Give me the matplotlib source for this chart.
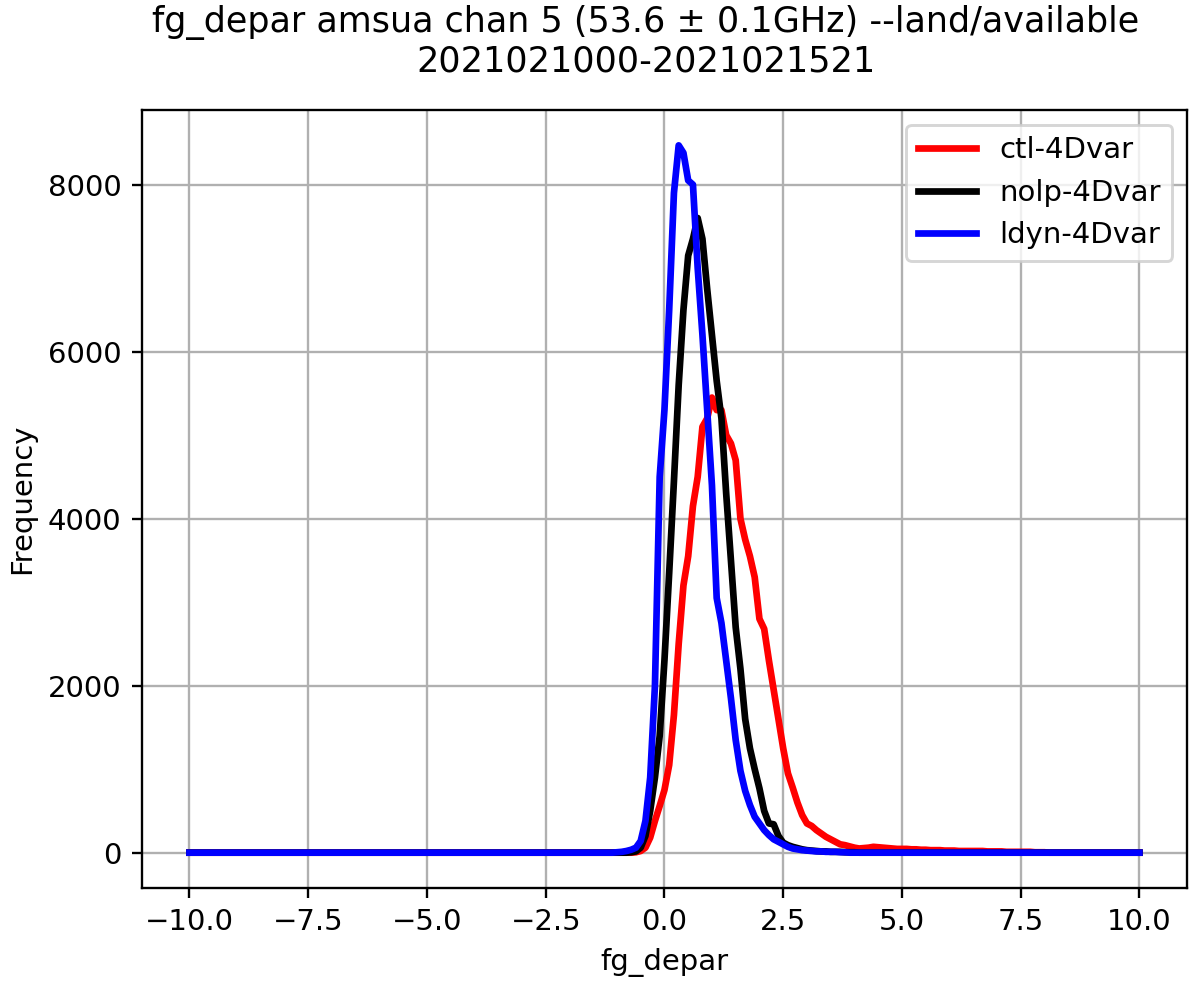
import numpy as np
import matplotlib
matplotlib.use('Agg')
import matplotlib.pyplot as plt

# bin centres of the fg_depar histogram (width 0.1)
bins = np.round(np.linspace(-10.0, 10.0, 201), 1)

# counts, from x = -1.1 upwards (zero elsewhere)
window_start = -1.1
ctl_vals = [0, 0, 0, 0, 0, 5, 20, 60, 180, 380, 560, 750,
            1050, 1650, 2500, 3200, 3550, 4150, 4500, 5100, 5200, 5450,
            5300, 5300, 5000, 4900, 4700, 4000, 3750, 3550, 3300, 2800,
            2680, 2300, 1950, 1600, 1250, 950, 780, 600, 450, 350,
            320, 270, 230, 190, 160, 130, 100, 90, 75, 60,
            50, 55, 60, 70, 65, 60, 55, 50, 45, 45,
            45, 40, 40, 35, 35, 30, 30, 30, 25, 25,
            25, 20, 20, 20, 20, 20, 20, 15, 15, 15,
            15, 10, 10, 10, 10, 10, 10, 5, 5, 5]
nolp_vals = [0, 0, 0, 0, 5, 15, 60, 200, 500, 900, 1400, 2300,
             3350, 4450, 5600, 6500, 7150, 7350, 7600, 7350, 6750, 6200,
             5650, 5200, 4300, 3500, 2700, 2200, 1600, 1250, 1000, 770,
             500, 350, 340, 200, 120, 90, 70, 55, 40, 30,
             25, 20, 15, 15, 10, 10, 10, 5, 5, 5]
ldyn_vals = [0, 5, 10, 20, 35, 60, 140, 380, 900, 2000, 4500, 5300,
             6500, 7900, 8470, 8380, 8050, 8000, 7000, 6200, 5300, 4400,
             3050, 2750, 2300, 1850, 1350, 980, 740, 570, 430, 350,
             270, 210, 160, 130, 100, 70, 50, 40, 30, 25,
             20, 15, 15, 10, 10, 10, 5, 5]

labels = ['ctl-4Dvar', 'nolp-4Dvar', 'ldyn-4Dvar']
colors = ['red', 'black', 'blue']

title = 'fg_depar amsua chan 5 (53.6 \u00b1 0.1GHz) --land/available\n2021021000-2021021521'


def full_counts(vals):
    y = np.zeros(len(bins))
    i0 = int(np.argmin(np.abs(bins - window_start)))
    y[i0:i0 + len(vals)] = vals
    return y


DPI = 210
fig = plt.figure(figsize=(1200 / DPI, 991 / DPI), dpi=DPI)
ax = fig.add_axes([0.1183, 0.1039, 0.8708, 0.7851])

for vals, lab, col in zip([ctl_vals, nolp_vals, ldyn_vals], labels, colors):
    ax.plot(bins, full_counts(vals), color=col, lw=2.3, label=lab)

ax.grid(True)
ax.legend(loc='upper right')
ax.set_xlabel('fg_depar')
ax.set_ylabel('Frequency')
fig.text(0.538, 1 - 72 / 991, title, ha='center', va='baseline',
         fontsize=12, multialignment='center')

fig.savefig('out.png', dpi=DPI)
